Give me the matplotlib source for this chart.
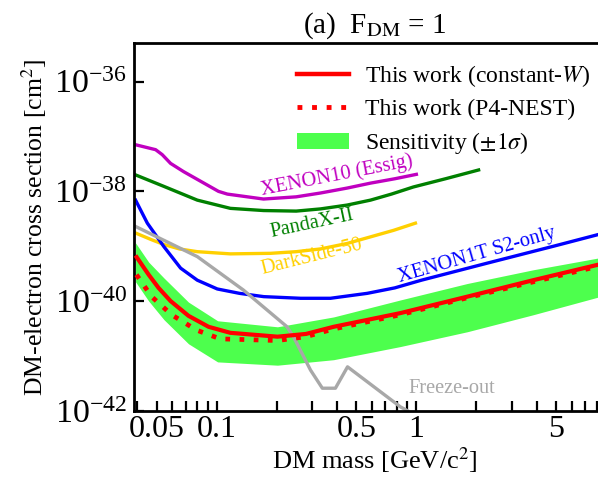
import numpy as np
import matplotlib
matplotlib.use("Agg")
import matplotlib.pyplot as plt
from matplotlib.lines import Line2D
from matplotlib.patches import Patch
from matplotlib.ticker import NullLocator, FixedLocator, FixedFormatter

plt.rcParams['font.family'] = 'serif'
plt.rcParams['font.serif'] = ['Liberation Serif', 'DejaVu Serif']
plt.rcParams['mathtext.fontset'] = 'stix'

# ---- curves: DM mass [GeV/c^2] and log10(cross section [cm^2]) ----
xenon10_mass = [0.0392, 0.0494, 0.0533, 0.0587, 0.0682, 0.102, 0.113, 0.1715,
                0.25, 0.331, 0.45, 0.589, 0.78, 1.0]
xenon10_logxs = [-37.15, -37.24, -37.33, -37.49, -37.64, -38.00, -38.05, -38.14,
                 -38.10, -38.03, -37.94, -37.85, -37.77, -37.69]

pandax_mass = [0.0392, 0.0544, 0.0799, 0.117, 0.172, 0.25, 0.331, 0.45, 0.589,
               0.75, 0.966, 1.4, 2.05]
pandax_logxs = [-37.70, -37.91, -38.16, -38.31, -38.35, -38.36, -38.32, -38.25,
                -38.16, -38.05, -37.92, -37.77, -37.61]

darkside_mass = [0.0392, 0.047, 0.0544, 0.065, 0.0799, 0.117, 0.186, 0.25,
                 0.331, 0.45, 0.589, 0.77, 0.989]
darkside_logxs = [-38.76, -38.88, -38.97, -39.05, -39.10, -39.14, -39.13, -39.10,
                  -39.05, -38.95, -38.83, -38.71, -38.58]

xenon1t_mass = [0.0392, 0.0449, 0.0544, 0.0659, 0.0799, 0.1006, 0.13, 0.172,
                0.263, 0.371, 0.567, 0.78, 1.06, 2.26, 4.87, 8.3]
xenon1t_logxs = [-38.16, -38.58, -39.01, -39.40, -39.62, -39.78, -39.86, -39.92,
                 -39.95, -39.95, -39.86, -39.76, -39.62, -39.31, -39.00, -38.78]

freeze_mass = [0.0392, 0.0799, 0.136, 0.225, 0.243, 0.295, 0.338, 0.393, 0.452, 0.832, 0.902]
freeze_logxs = [-38.64, -39.19, -39.80, -40.47, -40.66, -41.26, -41.59, -41.59, -41.20, -41.93, -42.00]

cw_mass = [0.0397, 0.0456, 0.0511, 0.0587, 0.0722, 0.091, 0.117, 0.2015, 0.28,
           0.385, 0.832, 1.80, 3.85, 8.3]
cw_logxs = [-39.20, -39.52, -39.76, -40.00, -40.27, -40.47, -40.58, -40.65, -40.60,
            -40.47, -40.22, -39.92, -39.62, -39.33]

nest_mass = [0.0396, 0.0472, 0.0594, 0.0792, 0.104, 0.2015, 0.28, 0.385, 0.832,
             1.80, 3.85, 8.3]
nest_logxs = [-39.52, -39.92, -40.25, -40.53, -40.69, -40.72, -40.65, -40.51, -40.25,
              -39.94, -39.65, -39.36]

band_mass = [0.0392, 0.0456, 0.0544, 0.0722, 0.101, 0.2015, 0.385, 0.832, 1.80, 3.85, 8.3]
band_up_logxs = [-38.94, -39.29, -39.58, -40.02, -40.36, -40.47, -40.29, -39.98, -39.68, -39.43, -39.21]
band_lo_logxs = [-39.65, -40.00, -40.34, -40.78, -41.11, -41.17, -41.07, -40.83, -40.56, -40.25, -39.92]

x_major = [0.05, 0.1, 0.5, 1, 5]
x_major_labels = ["0.05", "0.1", "0.5", "1", "5"]
x_minor = [0.04, 0.06, 0.07, 0.08, 0.09, 0.2, 0.3, 0.4, 0.6, 0.7, 0.8, 0.9,
           2, 3, 4, 6, 7, 8, 9]
y_major = [1e-42, 1e-40, 1e-38, 1e-36]


def pw(v):
    return np.power(10.0, np.asarray(v))


W, H = 598, 478
fig = plt.figure(figsize=(W / 100, H / 100), dpi=100)
x0, x1, ytop, ybot = 134, 616, 43.3, 410.7
ax = fig.add_axes([x0 / W, 1 - ybot / H, (x1 - x0) / W, (ybot - ytop) / H])

ax.set_xscale('log')
ax.set_yscale('log')
ax.set_xlim(0.0385, 10)
ax.set_ylim(1e-42, 10 ** -35.3)

ax.fill_between(band_mass, pw(band_lo_logxs), pw(band_up_logxs),
                color='#4dff4d', lw=0, zorder=1)
ax.plot(xenon10_mass, pw(xenon10_logxs), color='#c000c0', lw=2.4, zorder=2)
ax.plot(pandax_mass, pw(pandax_logxs), color='#008000', lw=2.4, zorder=2)
ax.plot(darkside_mass, pw(darkside_logxs), color='#ffd000', lw=2.4, zorder=2)
ax.plot(xenon1t_mass, pw(xenon1t_logxs), color='#0000ff', lw=2.4, zorder=2)
ax.plot(freeze_mass, pw(freeze_logxs), color='#a8a8a8', lw=2.4, zorder=2)
ax.plot(nest_mass, pw(nest_logxs), color='#ff0000', lw=3.4,
        dashes=(1, 2), dash_capstyle='butt', zorder=3)
ax.plot(cw_mass, pw(cw_logxs), color='#ff0000', lw=3.0, zorder=4)

# curve annotations
lab_kw = dict(ha='center', va='center', rotation_mode='anchor', fontsize=14.7)
ax.text(0.40, pw(-37.72), 'XENON10 (Essig)', color='#c000c0', rotation=11, **lab_kw)
ax.text(0.30, pw(-38.59), 'PandaX-II', color='#008000', rotation=12, **lab_kw)
ax.text(0.30, pw(-39.19), 'DarkSide-50', color='#ffd000', rotation=14, **lab_kw)
ax.text(2.0, pw(-39.16), 'XENON1T S2-only', color='#0000ff', rotation=16, **lab_kw)
ax.text(1.50, pw(-41.6), 'Freeze-out', color='#a8a8a8', ha='center', va='center', fontsize=14.7)

# axes styling
for side in ('left', 'bottom', 'top'):
    ax.spines[side].set_linewidth(2.0)
ax.spines['right'].set_visible(False)
ax.xaxis.set_major_locator(FixedLocator(x_major))
ax.xaxis.set_major_formatter(FixedFormatter(x_major_labels))
ax.xaxis.set_minor_locator(FixedLocator(x_minor))
ax.xaxis.set_minor_formatter(FixedFormatter([]))
ax.yaxis.set_major_locator(FixedLocator(y_major))
ax.yaxis.set_minor_locator(NullLocator())
ax.tick_params(which='both', direction='in', length=7, width=1.6,
               top=False, right=False)
ax.tick_params(axis='x', labelsize=23, pad=3)
ax.tick_params(axis='y', labelsize=24.5, pad=5)

ax.set_xlabel('DM mass [GeV/c$^2$]', fontsize=19, labelpad=1)
ax.set_ylabel('DM-electron cross section [cm$^2$]', fontsize=18.5, labelpad=4)
ax.set_title(r'(a)  F$_\mathrm{DM}$ = 1', fontsize=21, pad=8)

handles = [
    Line2D([], [], color='#ff0000', lw=3.2),
    Line2D([], [], color='#ff0000', lw=3.5, dashes=(1, 2), dash_capstyle='butt'),
    Patch(facecolor='#4dff4d', edgecolor='none'),
]
labels = ['This work (constant-$W$)', 'This work (P4-NEST)', r'Sensitivity ($\pm1\sigma$)']
leg = fig.legend(handles, labels, loc='upper left',
                 bbox_to_anchor=(297 / W, 1 - 63 / H), frameon=False,
                 fontsize=17, handlelength=2.2, handletextpad=0.7,
                 labelspacing=0.42, borderpad=0, borderaxespad=0)

fig.savefig('out.png', dpi=100)
